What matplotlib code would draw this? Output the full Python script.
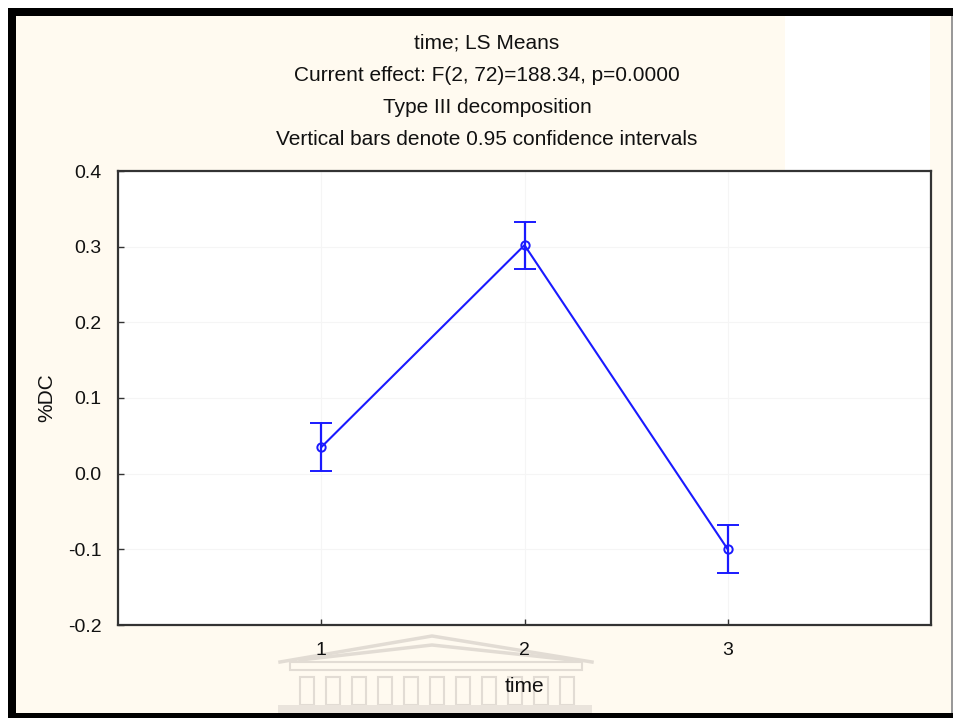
import matplotlib.pyplot as plt
from matplotlib.patches import Rectangle

plt.rcParams['font.family'] = ['Liberation Sans', 'DejaVu Sans']

# LS means of %DC per time point, with 0.95 confidence limits
time_points = [1, 2, 3]
ls_means = [0.035, 0.302, -0.100]
ci_low = [0.004, 0.270, -0.131]
ci_high = [0.067, 0.333, -0.068]
y_ticks = [-0.2, -0.1, 0.0, 0.1, 0.2, 0.3, 0.4]

title_lines = ["time; LS Means",
               "Current effect: F(2, 72)=188.34, p=0.0000",
               "Type III decomposition",
               "Vertical bars denote 0.95 confidence intervals"]

W, H = 954, 720
fig = plt.figure(figsize=(W / 100, H / 100), dpi=100)
fig.patch.set_facecolor('white')


def px(x0, y0, x1, y1):
    # pixel box (top-left origin) -> figure fraction rect
    return (x0 / W, 1 - y1 / H, (x1 - x0) / W, (y1 - y0) / H)


def add_box(x0, y0, x1, y1, **kw):
    l, b, w, h = px(x0, y0, x1, y1)
    fig.patches.append(Rectangle((l, b), w, h, transform=fig.transFigure, **kw))


# page background and frame
add_box(8, 8, 953, 718, facecolor='#FFFAF0', edgecolor='none', zorder=0)
add_box(785, 16, 930, 171, facecolor='white', edgecolor='none', zorder=0)
add_box(8, 8, 953, 16, facecolor='black', edgecolor='none', zorder=1)
add_box(8, 8, 16, 718, facecolor='black', edgecolor='none', zorder=1)
add_box(8, 713, 953, 718, facecolor='black', edgecolor='none', zorder=1)
add_box(951, 16, 953, 713, facecolor='#999999', edgecolor='none', zorder=1)

# faint crest in the lower margin
crest = '#E2DCD4'
for pts in ([(280, 662), (432, 636), (592, 662)],
            [(300, 660), (432, 645), (572, 660)]):
    fig.lines.append(plt.Line2D([p[0] / W for p in pts], [1 - p[1] / H for p in pts],
                                transform=fig.transFigure, color=crest, lw=2.5, zorder=1))
add_box(290, 662, 582, 670, facecolor='none', edgecolor=crest, lw=1.5, zorder=1)
for cx in range(300, 575, 26):
    add_box(cx, 677, cx + 14, 705, facecolor='none', edgecolor=crest, lw=1.5, zorder=1)
add_box(278, 705, 592, 713, facecolor='#EAE4DC', edgecolor='none', zorder=1)

for i, line in enumerate(title_lines):
    fig.text(487 / W, 1 - (43 + 32.3 * i) / H, line, ha='center', va='center',
             fontsize=15, color='#111111', zorder=3)

ax = fig.add_axes(px(118, 171, 931, 625))
ax.set_facecolor('white')
ax.set_zorder(2)

ax.errorbar(time_points, ls_means,
            yerr=[[m - lo for m, lo in zip(ls_means, ci_low)],
                  [hi - m for m, hi in zip(ls_means, ci_high)]],
            color='#1A1AFF', lw=1.5, elinewidth=1.6, capsize=8, capthick=1.6,
            marker='o', ms=6, mfc='none', mew=1.4, zorder=3)

ax.set_xlim(0, 4)
ax.set_ylim(-0.2, 0.4)
ax.set_xticks(time_points)
ax.set_yticks(y_ticks)
ax.set_yticklabels([f"{v:.1f}" for v in y_ticks])
ax.grid(True, color='#F5F5F5', lw=0.8)
ax.tick_params(direction='in', length=4, width=1, colors='#333333',
               labelsize=14, labelcolor='#111111', pad=12)
ax.tick_params(axis='x', pad=12)
for s in ax.spines.values():
    s.set_color('#333333')
    s.set_linewidth(1.6)

ax.set_xlabel('time', fontsize=15, color='#111111', va='center')
ax.xaxis.set_label_coords(0.5, -62 / 454)
ax.set_ylabel('%DC', fontsize=15, color='#111111', va='center')
ax.yaxis.set_label_coords(-71 / 813, 0.5)

fig.savefig('out.png', dpi=100, facecolor=fig.get_facecolor())
